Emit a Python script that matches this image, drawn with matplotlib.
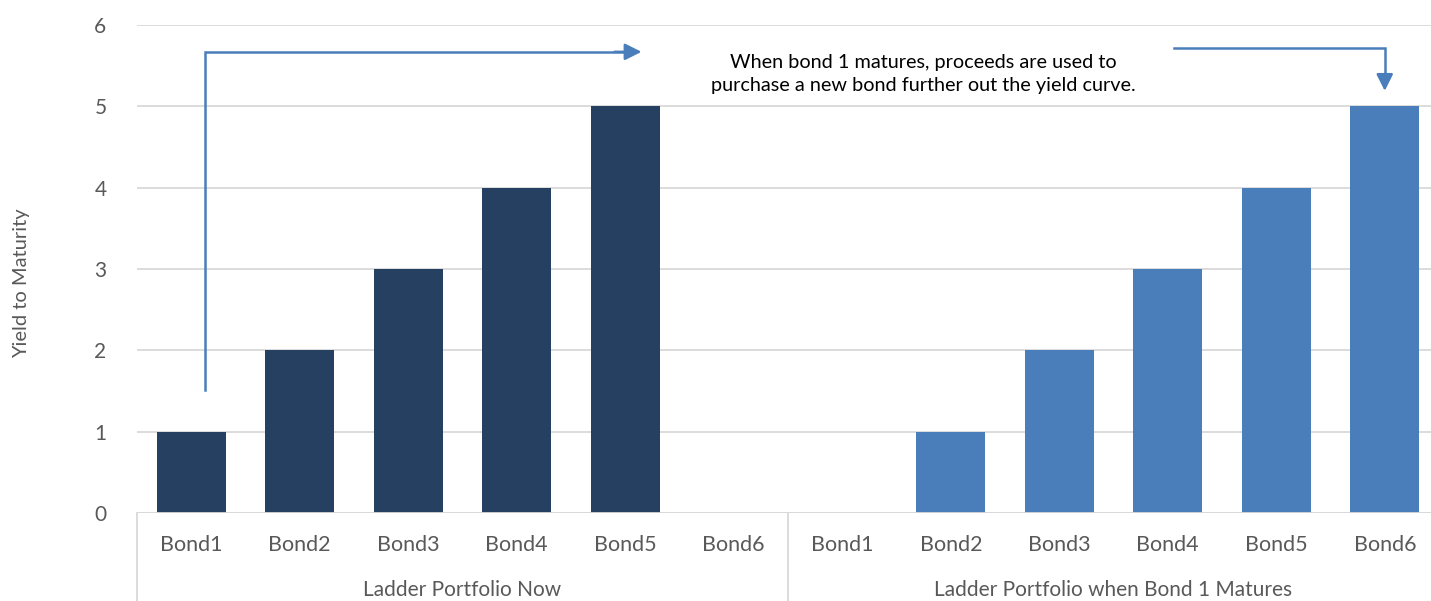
import matplotlib
matplotlib.use("Agg")
import matplotlib.pyplot as plt
from matplotlib.transforms import blended_transform_factory

plt.rcParams['font.family'] = ['Lato', 'DejaVu Sans']

bonds = ["Bond1", "Bond2", "Bond3", "Bond4", "Bond5", "Bond6"]
groups = ["Ladder Portfolio Now", "Ladder Portfolio when Bond 1 Matures"]
now_yields = [1, 2, 3, 4, 5, 0]
later_yields = [0, 1, 2, 3, 4, 5]
y_ticks = [0, 1, 2, 3, 4, 5, 6]
y_label = "Yield to Maturity"
note = "When bond 1 matures, proceeds are used to\npurchase a new bond further out the yield curve."

W, H = 1431, 601
fig = plt.figure(figsize=(W / 100, H / 100), dpi=100)
left, right, bottom, top = 137, 1439, 601 - 513, 601 - 25
ax = fig.add_axes([left / W, bottom / H, (right - left) / W, (top - bottom) / H])

dark = "#264061"
light = "#4A7EBB"
grey_txt = "#595959"
grid_c = "#D9D9D9"

n = len(bonds)
x_now = list(range(n))
x_later = [n + i for i in range(n)]
ax.bar(x_now, now_yields, width=0.64, color=dark, zorder=3)
ax.bar(x_later, later_yields, width=0.64, color=light, zorder=3)

ax.set_xlim(-0.5, 2 * n - 0.5)
ax.set_ylim(0, 6)
ax.set_yticks(y_ticks)
ax.yaxis.grid(True, color=grid_c, linewidth=1.3, zorder=0)
for s in ax.spines.values():
    s.set_visible(False)
ax.tick_params(axis='y', length=0, pad=22, labelsize=15, labelcolor=grey_txt)
ax.set_xticks([])

# baseline
ax.axhline(0, color=grid_c, linewidth=1.3, zorder=4)

trans = blended_transform_factory(ax.transData, ax.transAxes)
ax_h = top - bottom
# category labels
for i, b in enumerate(bonds + bonds):
    ax.text(i, -(545 - 513) / ax_h, b, transform=trans, ha='center', va='center',
            fontsize=15.5, color=grey_txt)
# group labels
for g, name in enumerate(groups):
    ax.text(g * n + (n - 1) / 2, -(590 - 513) / ax_h, name, transform=trans,
            ha='center', va='center', fontsize=15, color=grey_txt)
# group separators
for xs in [-0.5, n - 0.5, 2 * n - 0.5]:
    ax.plot([xs, xs], [0, -0.3], transform=trans, color=grid_c, linewidth=1.3,
            clip_on=False)

ax.set_ylabel(y_label, fontsize=14.5, color=grey_txt, labelpad=0)
ax.yaxis.set_label_coords(-(137 - 30) / (right - left), (513 - 283) / ax_h)

# arrows
arrow_c = "#4A7EBB"
ax.plot([0.127, 0.127, 4.0], [1.51, 5.67, 5.67], color=arrow_c, linewidth=1.8,
        zorder=5, solid_joinstyle='miter')
ax.annotate("", xy=(4.15, 5.67), xytext=(3.9, 5.67),
            arrowprops=dict(arrowstyle="-|>,head_length=1.0,head_width=0.5",
                            color=arrow_c, lw=1.8, shrinkA=0, shrinkB=0))
ax.plot([9.06, 11.0, 11.0], [5.72, 5.72, 5.35], color=arrow_c, linewidth=1.8,
        zorder=5, solid_joinstyle='miter')
ax.annotate("", xy=(11.0, 5.19), xytext=(11.0, 5.4),
            arrowprops=dict(arrowstyle="-|>,head_length=1.0,head_width=0.5",
                            color=arrow_c, lw=1.8, shrinkA=0, shrinkB=0))

ax.text(6.75, 5.40, note, ha='center', va='center', fontsize=14.3, color="#000000",
        linespacing=1.45, zorder=6)

fig.savefig("out.png", dpi=100)
